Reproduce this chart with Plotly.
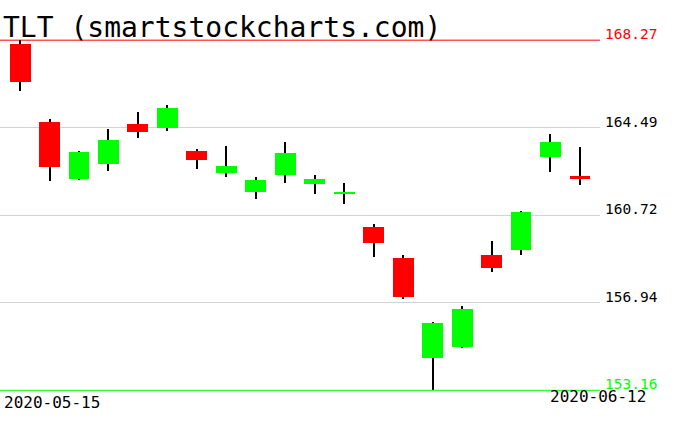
import plotly.graph_objects as go

# ---- data ----
dates = ["2020-05-15", "2020-05-18", "2020-05-19", "2020-05-20", "2020-05-21",
         "2020-05-22", "2020-05-26", "2020-05-27", "2020-05-28", "2020-05-29",
         "2020-06-01", "2020-06-02", "2020-06-03", "2020-06-04", "2020-06-05",
         "2020-06-08", "2020-06-09", "2020-06-10", "2020-06-11", "2020-06-12"]
opens = [168.11, 164.73, 162.27, 162.93, 164.65, 164.49, 163.48, 162.54, 161.72, 162.45,
         162.06, 161.64, 160.19, 158.89, 154.57, 155.01, 159.02, 159.21, 163.23, 162.40]
highs = [168.27, 164.86, 163.48, 164.43, 165.17, 165.46, 163.56, 163.69, 162.35, 163.87,
         162.44, 162.09, 160.32, 158.98, 156.12, 156.81, 159.62, 160.89, 164.21, 163.65]
lows = [166.09, 162.19, 162.22, 162.62, 164.07, 164.36, 162.71, 162.37, 161.41, 162.11,
        161.63, 161.20, 158.90, 157.11, 153.16, 154.98, 158.25, 158.99, 162.58, 162.02]
closes = [166.48, 162.80, 163.43, 163.95, 164.31, 165.34, 163.10, 162.83, 162.22, 163.39,
          162.27, 161.70, 159.51, 157.17, 156.08, 156.68, 158.43, 160.85, 163.87, 162.28]
grid_levels = [156.94, 160.72, 164.49]
max_level = 168.27
min_level = 153.16
title_text = "TLT (smartstockcharts.com)"

UP, DOWN = "#00ff00", "#ff0000"
MONO = "DejaVu Sans Mono"

body_base = [min(o, c) for o, c in zip(opens, closes)]
body_h = [abs(c - o) for o, c in zip(opens, closes)]
body_col = [UP if c >= o else DOWN for o, c in zip(opens, closes)]

fig = go.Figure()
# wicks
fig.add_trace(go.Bar(x=dates, base=lows, y=[h - l for h, l in zip(highs, lows)],
                     width=0.068, marker=dict(color="black", line=dict(width=0)),
                     hoverinfo="skip", showlegend=False))
# bodies
fig.add_trace(go.Bar(x=dates, base=body_base, y=body_h, width=0.71,
                     marker=dict(color=body_col, line=dict(width=0)),
                     customdata=list(zip(opens, highs, lows, closes)),
                     hovertemplate="O %{customdata[0]}<br>H %{customdata[1]}<br>L %{customdata[2]}<br>C %{customdata[3]}<extra></extra>",
                     showlegend=False))

# max / min lines
fig.add_shape(type="line", xref="paper", x0=0, x1=1, yref="y", y0=max_level, y1=max_level,
              line=dict(color=DOWN, width=1), layer="below")
fig.add_shape(type="line", xref="paper", x0=0, x1=1, yref="y", y0=min_level, y1=min_level,
              line=dict(color=UP, width=1), layer="above")

label_items = [(max_level, DOWN)] + [(g, "black") for g in grid_levels] + [(min_level, UP)]
for val, col in label_items:
    fig.add_annotation(x=1, xref="paper", xanchor="left", xshift=3,
                       y=val, yref="y", yanchor="bottom", yshift=-4,
                       text=f"{val:.2f}", showarrow=False,
                       font=dict(family=MONO, size=14.5, color=col))

# date labels
fig.add_annotation(x=0, xref="paper", xanchor="left", xshift=2,
                   y=0, yref="paper", yanchor="bottom", yshift=17,
                   text=dates[0], showarrow=False, font=dict(family=MONO, size=16, color="black"))
fig.add_annotation(x=1, xref="paper", xanchor="right", xshift=48,
                   y=0, yref="paper", yanchor="bottom", yshift=23,
                   text=dates[-1], showarrow=False, font=dict(family=MONO, size=16, color="black"))

# title
fig.add_annotation(x=0, xref="paper", xanchor="left", xshift=1,
                   y=1, yref="paper", yanchor="top", yshift=-9,
                   text=title_text, showarrow=False, font=dict(family=MONO, size=28, color="black"))

n = len(dates)
fig.update_layout(
    width=676, height=431,
    margin=dict(l=0, r=76, t=0, b=0),
    paper_bgcolor="white", plot_bgcolor="white",
    barmode="overlay", bargap=0,
    xaxis=dict(type="category", range=[-0.68, n - 1 + 0.68], showgrid=False,
               showticklabels=False, zeroline=False, showline=False, ticks=""),
    yaxis=dict(range=[151.404, 170.004], tickvals=grid_levels, showticklabels=False,
               showgrid=True, gridcolor="#d3d3d3", gridwidth=1, zeroline=False,
               showline=False, ticks=""),
)
fig.write_html("out.html", config={"displayModeBar": False},
               post_script="document.body.style.margin='0';")
